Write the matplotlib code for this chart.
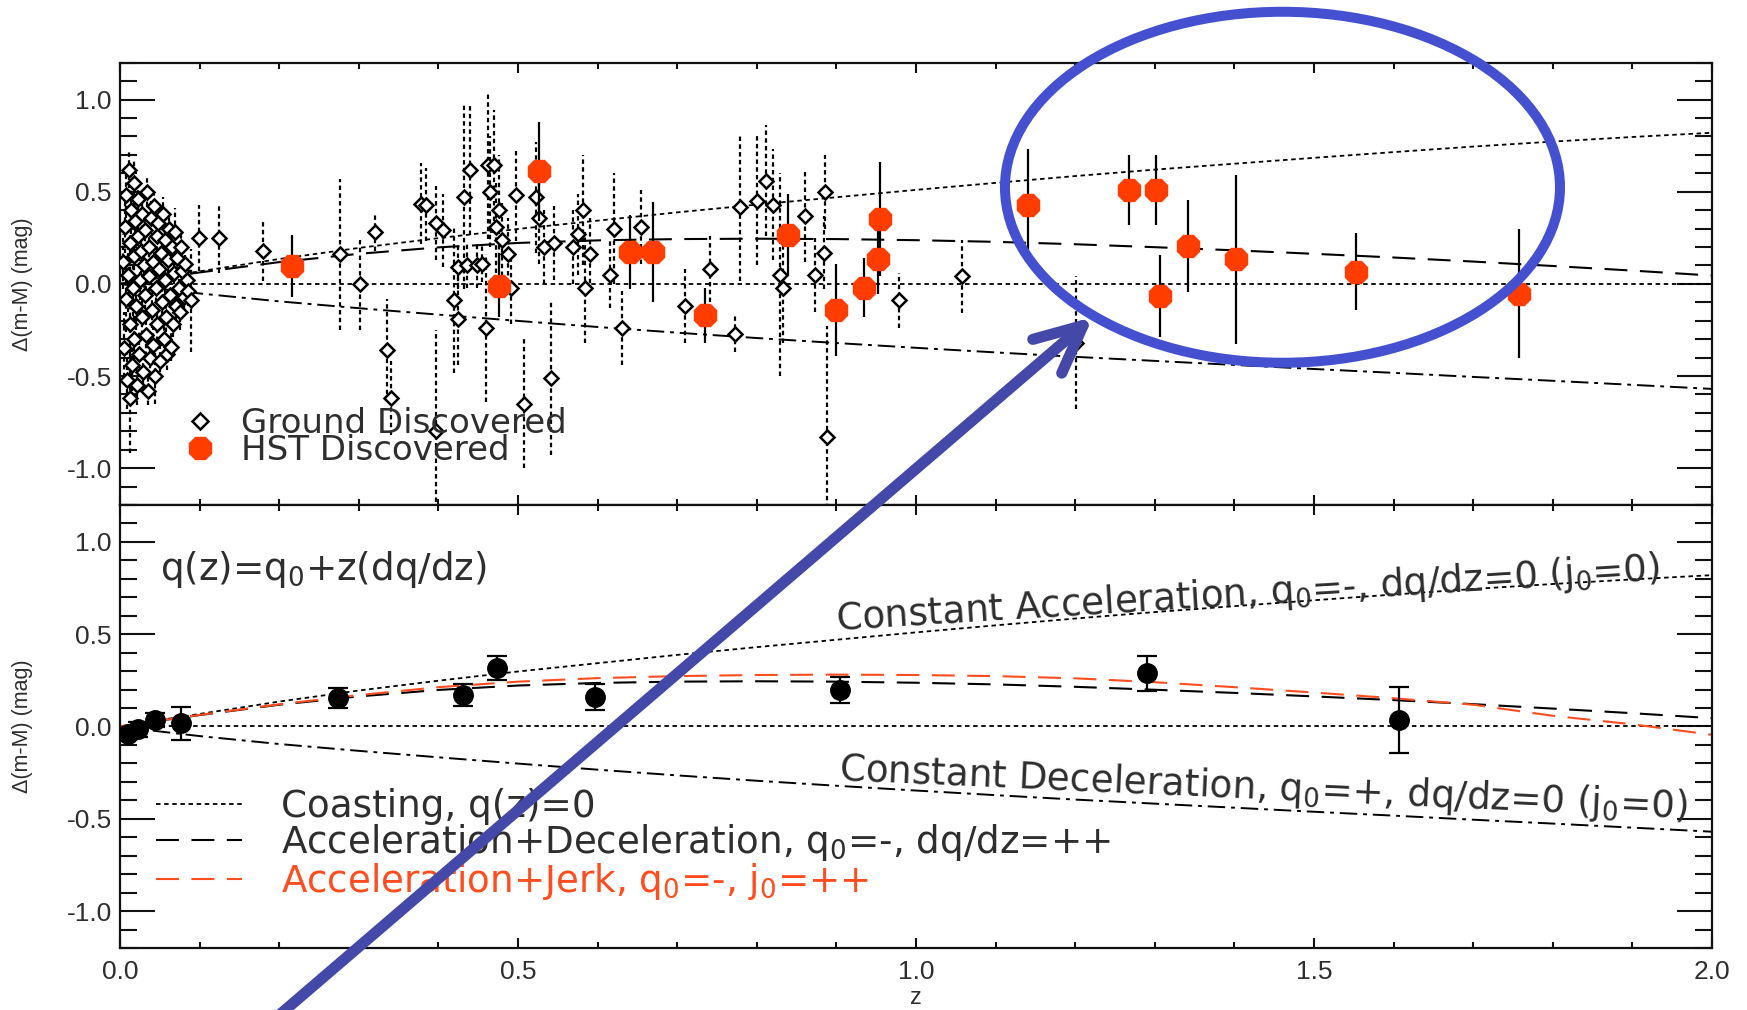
import matplotlib
matplotlib.use('Agg')
import matplotlib.pyplot as plt
from matplotlib.lines import Line2D
from matplotlib.patches import Ellipse, FancyArrowPatch
from matplotlib.ticker import MultipleLocator

plt.rcParams['font.family'] = ['Liberation Sans', 'DejaVu Sans']
plt.rcParams['axes.unicode_minus'] = False
plt.rcParams['mathtext.fontset'] = 'dejavusans'

RED = '#FF3D00'
RED_TXT = '#FF4D1F'
TXT = '#2e2e2e'

# ground discovered SNe (top panel): redshift, residual, error
ground_z = [0.004, 0.005, 0.006, 0.007, 0.008, 0.009, 0.010, 0.011, 0.012, 0.013,
            0.013, 0.014, 0.015, 0.016, 0.017, 0.018, 0.018, 0.019, 0.020, 0.021,
            0.022, 0.023, 0.024, 0.025, 0.026, 0.027, 0.028, 0.029, 0.030, 0.031,
            0.032, 0.033, 0.034, 0.035, 0.036, 0.037, 0.038, 0.039, 0.040, 0.041,
            0.042, 0.043, 0.044, 0.045, 0.046, 0.047, 0.048, 0.049, 0.050, 0.052,
            0.053, 0.054, 0.055, 0.056, 0.057, 0.058, 0.059, 0.060, 0.062, 0.063,
            0.064, 0.065, 0.066, 0.068, 0.069, 0.070, 0.072, 0.074, 0.075, 0.076,
            0.078, 0.080, 0.082, 0.084, 0.086, 0.089, 0.0995, 0.124, 0.180,
            0.276, 0.301, 0.320, 0.335, 0.340, 0.378, 0.385, 0.397, 0.397, 0.406,
            0.419, 0.424, 0.425, 0.432, 0.436, 0.440, 0.448, 0.455, 0.460, 0.462,
            0.465, 0.470, 0.4725, 0.476, 0.480, 0.487, 0.491, 0.498, 0.508, 0.522,
            0.526, 0.532, 0.541, 0.545, 0.569, 0.575, 0.582, 0.584, 0.590, 0.616,
            0.620, 0.630, 0.655, 0.710, 0.741, 0.773, 0.779, 0.800, 0.812, 0.820,
            0.829, 0.833, 0.861, 0.873, 0.884, 0.886, 0.888, 0.978, 1.058, 1.201]
ground_dm = [0.12, -0.35, 0.31, -0.08, 0.48, -0.52, 0.05, 0.62, -0.62, 0.22,
             -0.22, 0.40, -0.44, -0.02, 0.55, 0.15, -0.30, 0.34, -0.12, -0.55,
             0.26, 0.46, -0.38, 0.02, 0.18, -0.18, 0.38, -0.48, 0.10, -0.06,
             0.29, -0.28, 0.50, -0.58, 0.04, 0.20, -0.40, 0.36, -0.14, 0.12,
             -0.33, 0.42, -0.50, -0.02, 0.26, -0.22, 0.33, 0.08, -0.42, 0.17,
             -0.10, 0.38, -0.30, 0.02, 0.24, -0.18, -0.38, 0.13, 0.30, -0.06,
             -0.34, 0.20, -0.22, 0.06, 0.28, -0.12, 0.14, -0.02, -0.15, 0.20,
             0.07, -0.07, 0.11, 0.02, -0.04, -0.09, 0.25, 0.25, 0.178,
             0.16, 0.0, 0.28, -0.36, -0.62, 0.434, 0.43, 0.33, -0.80, 0.29,
             -0.085, -0.19, 0.09, 0.47, 0.10, 0.616, 0.10, 0.11, -0.24, 0.643,
             0.50, 0.643, 0.31, 0.40, 0.24, 0.16, -0.02, 0.48, -0.65, 0.47,
             0.36, 0.20, -0.51, 0.22, 0.20, 0.27, 0.40, -0.02, 0.16, 0.05,
             0.30, -0.24, 0.31, -0.12, 0.08, -0.27, 0.415, 0.45, 0.56, 0.43,
             0.05, -0.02, 0.37, 0.05, 0.17, 0.50, -0.83, -0.09, 0.04, -0.32]
ground_err = [0.15, 0.20, 0.14, 0.18, 0.12, 0.16, 0.20, 0.10, 0.30, 0.15,
              0.17, 0.13, 0.14, 0.20, 0.12, 0.12, 0.15, 0.11, 0.13, 0.11,
              0.10, 0.10, 0.12, 0.11, 0.13, 0.10, 0.09, 0.10, 0.10, 0.12,
              0.10, 0.11, 0.08, 0.08, 0.09, 0.10, 0.10, 0.09, 0.10, 0.08,
              0.09, 0.07, 0.15, 0.08, 0.08, 0.09, 0.10, 0.07, 0.10, 0.08,
              0.07, 0.09, 0.08, 0.07, 0.10, 0.08, 0.09, 0.07, 0.09, 0.07,
              0.08, 0.08, 0.07, 0.06, 0.13, 0.07, 0.07, 0.06, 0.10, 0.08,
              0.07, 0.07, 0.06, 0.07, 0.08, 0.28, 0.18, 0.19, 0.16,
              0.41, 0.25, 0.10, 0.28, 0.20, 0.22, 0.20, 0.20, 0.55, 0.20,
              0.40, 0.25, 0.12, 0.50, 0.12, 0.35, 0.12, 0.10, 0.40, 0.40,
              0.30, 0.30, 0.25, 0.30, 0.20, 0.20, 0.20, 0.25, 0.35, 0.30,
              0.25, 0.20, 0.42, 0.20, 0.20, 0.22, 0.30, 0.30, 0.20, 0.18,
              0.30, 0.20, 0.20, 0.20, 0.18, 0.10, 0.40, 0.35, 0.30, 0.30,
              0.55, 0.30, 0.25, 0.20, 0.20, 0.20, 0.60, 0.15, 0.20, 0.36]

# HST discovered SNe (top panel)
hst_z = [0.216, 0.476, 0.526, 0.641, 0.670, 0.735, 0.839, 0.899, 0.935, 0.952,
         0.955, 1.141, 1.267, 1.302, 1.306, 1.342, 1.402, 1.553, 1.757]
hst_dm = [0.097, -0.01, 0.61, 0.172, 0.172, -0.17, 0.265, -0.14, -0.02, 0.135,
          0.35, 0.43, 0.51, 0.51, -0.066, 0.206, 0.133, 0.066, -0.055]
hst_err = [0.17, 0.17, 0.27, 0.20, 0.27, 0.15, 0.22, 0.25, 0.16, 0.19,
           0.31, 0.30, 0.19, 0.19, 0.22, 0.25, 0.46, 0.21, 0.35]

# binned data (bottom panel)
bin_z = [0.010, 0.022, 0.044, 0.077, 0.274, 0.431, 0.473, 0.597, 0.904, 1.290, 1.607]
bin_dm = [-0.04, -0.015, 0.035, 0.017, 0.153, 0.170, 0.315, 0.161, 0.198, 0.288, 0.035]
bin_err = [0.03, 0.04, 0.04, 0.09, 0.055, 0.06, 0.065, 0.07, 0.07, 0.095, 0.18]

# model curves
curve_z = [0.0, 0.05, 0.1, 0.2, 0.3, 0.4, 0.5, 0.6, 0.7, 0.8, 0.9, 1.0,
           1.1, 1.2, 1.3, 1.4, 1.5, 1.6, 1.7, 1.8, 1.9, 2.0]
const_acc = [0.0, 0.035, 0.068, 0.135, 0.195, 0.248, 0.298, 0.343, 0.388, 0.43, 0.47, 0.51,
             0.548, 0.585, 0.62, 0.652, 0.684, 0.715, 0.745, 0.772, 0.797, 0.82]
const_dec = [0.0, -0.027, -0.052, -0.095, -0.132, -0.167, -0.201, -0.234, -0.265, -0.294, -0.321, -0.347,
             -0.372, -0.396, -0.418, -0.44, -0.462, -0.483, -0.505, -0.526, -0.548, -0.57]
acc_dec = [0.0, 0.032, 0.062, 0.118, 0.163, 0.198, 0.222, 0.236, 0.243, 0.245, 0.243, 0.237,
           0.228, 0.215, 0.199, 0.182, 0.163, 0.143, 0.121, 0.097, 0.072, 0.045]
acc_jerk = [0.0, 0.032, 0.063, 0.12, 0.17, 0.213, 0.243, 0.262, 0.273, 0.279, 0.281, 0.279,
            0.273, 0.261, 0.24, 0.213, 0.184, 0.153, 0.118, 0.058, 0.012, -0.045]
coast_z = [0.0, 2.0]
coast = [0.0, 0.0]

DOT = (0, (2.5, 2))
DASHDOT = (0, (9, 3, 2, 3))
LONGDASH = (0, (11, 6))

fig = plt.figure(figsize=(17.47, 10.10), dpi=100)
ax1 = fig.add_axes([0.0687, 0.5, 0.9113, 0.4379])
ax2 = fig.add_axes([0.0687, 0.0614, 0.9113, 0.4386])


def style_axes(ax, xlabels):
    ax.set_xlim(0, 2.0)
    ax.set_ylim(-1.2, 1.2)
    ax.xaxis.set_major_locator(MultipleLocator(0.5))
    ax.xaxis.set_minor_locator(MultipleLocator(0.1))
    ax.yaxis.set_major_locator(MultipleLocator(0.5))
    ax.yaxis.set_minor_locator(MultipleLocator(0.1))
    ax.xaxis.set_major_formatter('{x:.1f}')
    ax.yaxis.set_major_formatter('{x:.1f}')
    ax.tick_params(which='both', direction='in', top=True, right=True,
                   width=1.5, color='#111111', labelcolor=TXT, labelsize=19)
    ax.tick_params(axis='y', which='major', length=25, pad=6)
    ax.tick_params(axis='y', which='minor', length=12.5)
    ax.tick_params(axis='x', which='major', length=7.5, pad=9)
    ax.tick_params(axis='x', which='minor', length=4.5)
    ax.tick_params(axis='x', labelbottom=xlabels)
    for sp in ax.spines.values():
        sp.set_linewidth(1.6)
        sp.set_color('#111111')
    ax.set_ylabel('Δ(m-M) (mag)', fontsize=15.5, color=TXT)
    ax.yaxis.set_label_coords(-0.0547, 0.5)


style_axes(ax1, False)
style_axes(ax2, True)

# ---- top panel ----
ax1.plot(coast_z, coast, color='black', lw=1.3, ls=DOT)
ax1.plot(curve_z, const_acc, color='black', lw=1.3, ls=DOT)
ax1.plot(curve_z, const_dec, color='black', lw=1.4, ls=DASHDOT)
ax1.plot(curve_z, acc_dec, color='black', lw=1.5, ls=LONGDASH)

eb = ax1.errorbar(ground_z, ground_dm, yerr=ground_err, fmt='D', ms=7.5,
                  mfc='white', mec='black', mew=1.8, ecolor='black',
                  elinewidth=1.6, capsize=0, zorder=3)
eb[2][0].set_linestyle((0, (2, 1.5)))
ax1.errorbar(hst_z, hst_dm, yerr=hst_err, fmt='8', ms=17, mfc=RED, mec=RED,
             ecolor='black', elinewidth=1.6, capsize=0, zorder=5)

h_ground = Line2D([], [], marker='D', ls='none', ms=8, mfc='white', mec='black', mew=1.8)
h_hst = Line2D([], [], marker='8', ls='none', ms=17, mfc=RED, mec=RED)
ax1.legend([h_ground, h_hst], ['Ground Discovered', 'HST Discovered'],
           loc='upper left', bbox_to_anchor=(0.0396, 0.222), frameon=False,
           prop=dict(family='DejaVu Sans', size=24.5), labelcolor=TXT,
           handlelength=1.0, handletextpad=0.7, labelspacing=-0.17,
           borderpad=0, borderaxespad=0)

# ---- bottom panel ----
l_coast, = ax2.plot(coast_z, coast, color='black', lw=1.3, ls=DOT)
ax2.plot(curve_z, const_acc, color='black', lw=1.3, ls=DOT)
ax2.plot(curve_z, const_dec, color='black', lw=1.4, ls=DASHDOT)
l_ad, = ax2.plot(curve_z, acc_dec, color='black', lw=1.5, ls=LONGDASH)
l_aj, = ax2.plot(curve_z, acc_jerk, color=RED_TXT, lw=1.5, ls=LONGDASH)
ax2.errorbar(bin_z, bin_dm, yerr=bin_err, fmt='o', ms=14, color='black',
             elinewidth=1.6, capsize=7, capthick=1.6, zorder=5)

big = dict(family='DejaVu Sans', size=26.8, color=TXT)
ax2.text(0.0503, 0.794, r'q(z)=q$_0$+z(dq/dz)', ha='left', va='baseline', **big)
ax2.text(0.90, 0.52, r'Constant Acceleration, q$_0$=-, dq/dz=0 (j$_0$=0)',
         rotation=3.5, rotation_mode='anchor', ha='left', va='baseline', **big)
ax2.text(0.902, -0.29, r'Constant Deceleration, q$_0$=+, dq/dz=0 (j$_0$=0)',
         rotation=-2.56, rotation_mode='anchor', ha='left', va='baseline', **big)

ax2.legend([l_coast, l_ad, l_aj],
           ['Coasting, q(z)=0', r'Acceleration+Deceleration, q$_0$=-, dq/dz=++',
            r'Acceleration+Jerk, q$_0$=-, j$_0$=++'],
           loc='upper left', bbox_to_anchor=(0.0226, 0.362), frameon=False,
           prop=dict(family='DejaVu Sans', size=26.8), labelcolor=[TXT, TXT, RED_TXT],
           handlelength=2.3, handletextpad=1.05, labelspacing=-0.06,
           borderpad=0, borderaxespad=0)

ax2.set_xlabel('z', fontsize=17, color=TXT, labelpad=2)

# ---- blue annotation ----
fig.add_artist(Ellipse((0.7341, 0.8146), width=0.3177, height=0.3475,
                       transform=fig.transFigure, fill=False, lw=7.2,
                       ec='#4450CF', zorder=10))
fig.add_artist(FancyArrowPatch((270 / 1747, 1 - 1023 / 1010), (1093 / 1747, 1 - 317 / 1010),
                               transform=fig.transFigure,
                               arrowstyle='->,head_length=3.4,head_width=1.6',
                               mutation_scale=10, lw=8, color='#4448A8',
                               shrinkA=0, shrinkB=0, zorder=10))

fig.savefig('out.png', dpi=100)
